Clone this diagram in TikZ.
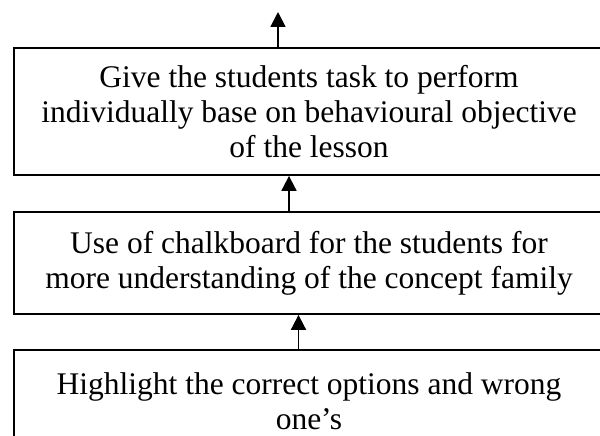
\documentclass[tikz,border=0pt]{standalone}
\usepackage{fontspec}
\setmainfont{Liberation Serif}
\usetikzlibrary{arrows.meta}
\begin{document}
\begin{tikzpicture}[x=1pt,y=-1pt,
  box/.style={draw=black,line width=1.8pt,inner sep=0pt,align=center,minimum width=590pt,
    font=\fontsize{31.5}{35}\selectfont},
  arr/.style={line width=1.8pt,-{Triangle[width=15pt,length=15pt]}}]
\clip (0,0) rectangle (600,436);
\fill[white] (0,0) rectangle (600,436);
\node[box,minimum height=127pt] (b1) at (309,111.5) {Give the students task to perform\\individually base on behavioural objective\\of the lesson};
\node[box,minimum height=102pt] (b2) at (309,263) {Use of chalkboard for the students for\\more understanding of the concept family};
\node[box,minimum height=102pt] (b3) at (309,401) {Highlight the correct options and wrong\\one’s};
\coordinate (x1) at (278,0);
\coordinate (x2) at (289,0);
\coordinate (x3) at (298.5,0);
\coordinate (top) at (278,12);
\draw[arr] (b1.north -| x1) -- (top);
\draw[arr] (b2.north -| x2) -- (b1.south -| x2);
\draw[arr] (b3.north -| x3) -- (b2.south -| x3);
\end{tikzpicture}
\end{document}
